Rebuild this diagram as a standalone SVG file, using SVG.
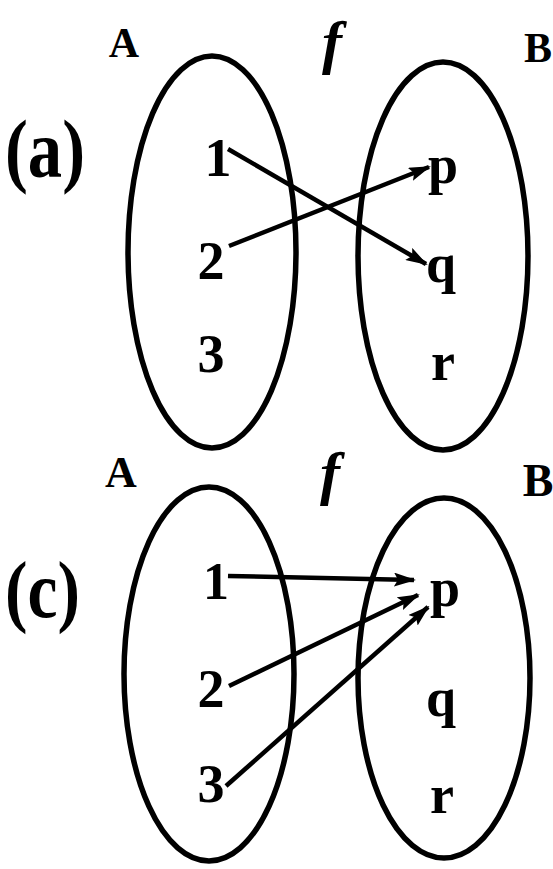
<svg xmlns="http://www.w3.org/2000/svg" width="553" height="869" viewBox="0 0 553 869">
<defs>
<marker id="ah" markerWidth="22" markerHeight="14" refX="20" refY="7" orient="auto" markerUnits="userSpaceOnUse">
<path d="M0,0 L22,7 L0,14 L4,7 Z" fill="#000"/>
</marker>
<style>
.set{fill:none;stroke:#000;stroke-width:5.5}
.lbl{font-family:"Liberation Serif","DejaVu Serif",serif;font-weight:bold;fill:#000;text-anchor:middle}
.it{font-style:italic}
.edge{fill:none;stroke:#000;stroke-width:4.5;marker-end:url(#ah)}
</style>
</defs>
<rect width="553" height="869" fill="#fff"/>
<g id="panel-a">
<text class="lbl" x="5" y="177" font-size="82" text-anchor="start" textLength="80" lengthAdjust="spacingAndGlyphs" style="text-anchor:start">(a)</text>
<text class="lbl" x="124" y="57" font-size="42">A</text>
<text class="lbl it" x="332" y="62" font-size="60">f</text>
<text class="lbl" x="538" y="62" font-size="42">B</text>
<g id="a-setA"><ellipse class="set" cx="212" cy="252" rx="84" ry="196"/></g>
<g id="a-setB"><ellipse class="set" cx="443" cy="256" rx="85" ry="194"/></g>
<g id="a-1"><text class="lbl" x="218" y="176" font-size="54">1</text></g>
<g id="a-2"><text class="lbl" x="211" y="279" font-size="54">2</text></g>
<g id="a-3"><text class="lbl" x="211" y="372" font-size="54">3</text></g>
<g id="a-p"><text class="lbl" x="443" y="183" font-size="54">p</text></g>
<g id="a-q"><text class="lbl" x="441" y="282" font-size="54">q</text></g>
<g id="a-r"><text class="lbl" x="443" y="380" font-size="54">r</text></g>
<g id="a-edges">
<line class="edge" x1="228" y1="149" x2="426" y2="264"/>
<line class="edge" x1="229" y1="246" x2="429" y2="167"/>
</g>
</g>
<g id="panel-c">
<text class="lbl" x="5" y="617" font-size="80" textLength="75" lengthAdjust="spacingAndGlyphs" style="text-anchor:start">(c)</text>
<text class="lbl" x="121" y="487" font-size="44">A</text>
<text class="lbl it" x="330" y="493" font-size="60">f</text>
<text class="lbl" x="538" y="496" font-size="46">B</text>
<g id="c-setA"><ellipse class="set" cx="209" cy="674" rx="85" ry="187"/></g>
<g id="c-setB"><ellipse class="set" cx="444" cy="678" rx="86" ry="180"/></g>
<g id="c-1"><text class="lbl" x="216" y="599" font-size="52">1</text></g>
<g id="c-2"><text class="lbl" x="211" y="707" font-size="54">2</text></g>
<g id="c-3"><text class="lbl" x="211" y="802" font-size="54">3</text></g>
<g id="c-p"><text class="lbl" x="445" y="606" font-size="54">p</text></g>
<g id="c-q"><text class="lbl" x="441" y="716" font-size="54">q</text></g>
<g id="c-r"><text class="lbl" x="442" y="813" font-size="54">r</text></g>
<g id="c-edges">
<line class="edge" x1="228" y1="576" x2="414" y2="580"/>
<line class="edge" x1="229" y1="686" x2="418" y2="595"/>
<line class="edge" x1="226" y1="786" x2="428" y2="607"/>
</g>
</g>
</svg>
